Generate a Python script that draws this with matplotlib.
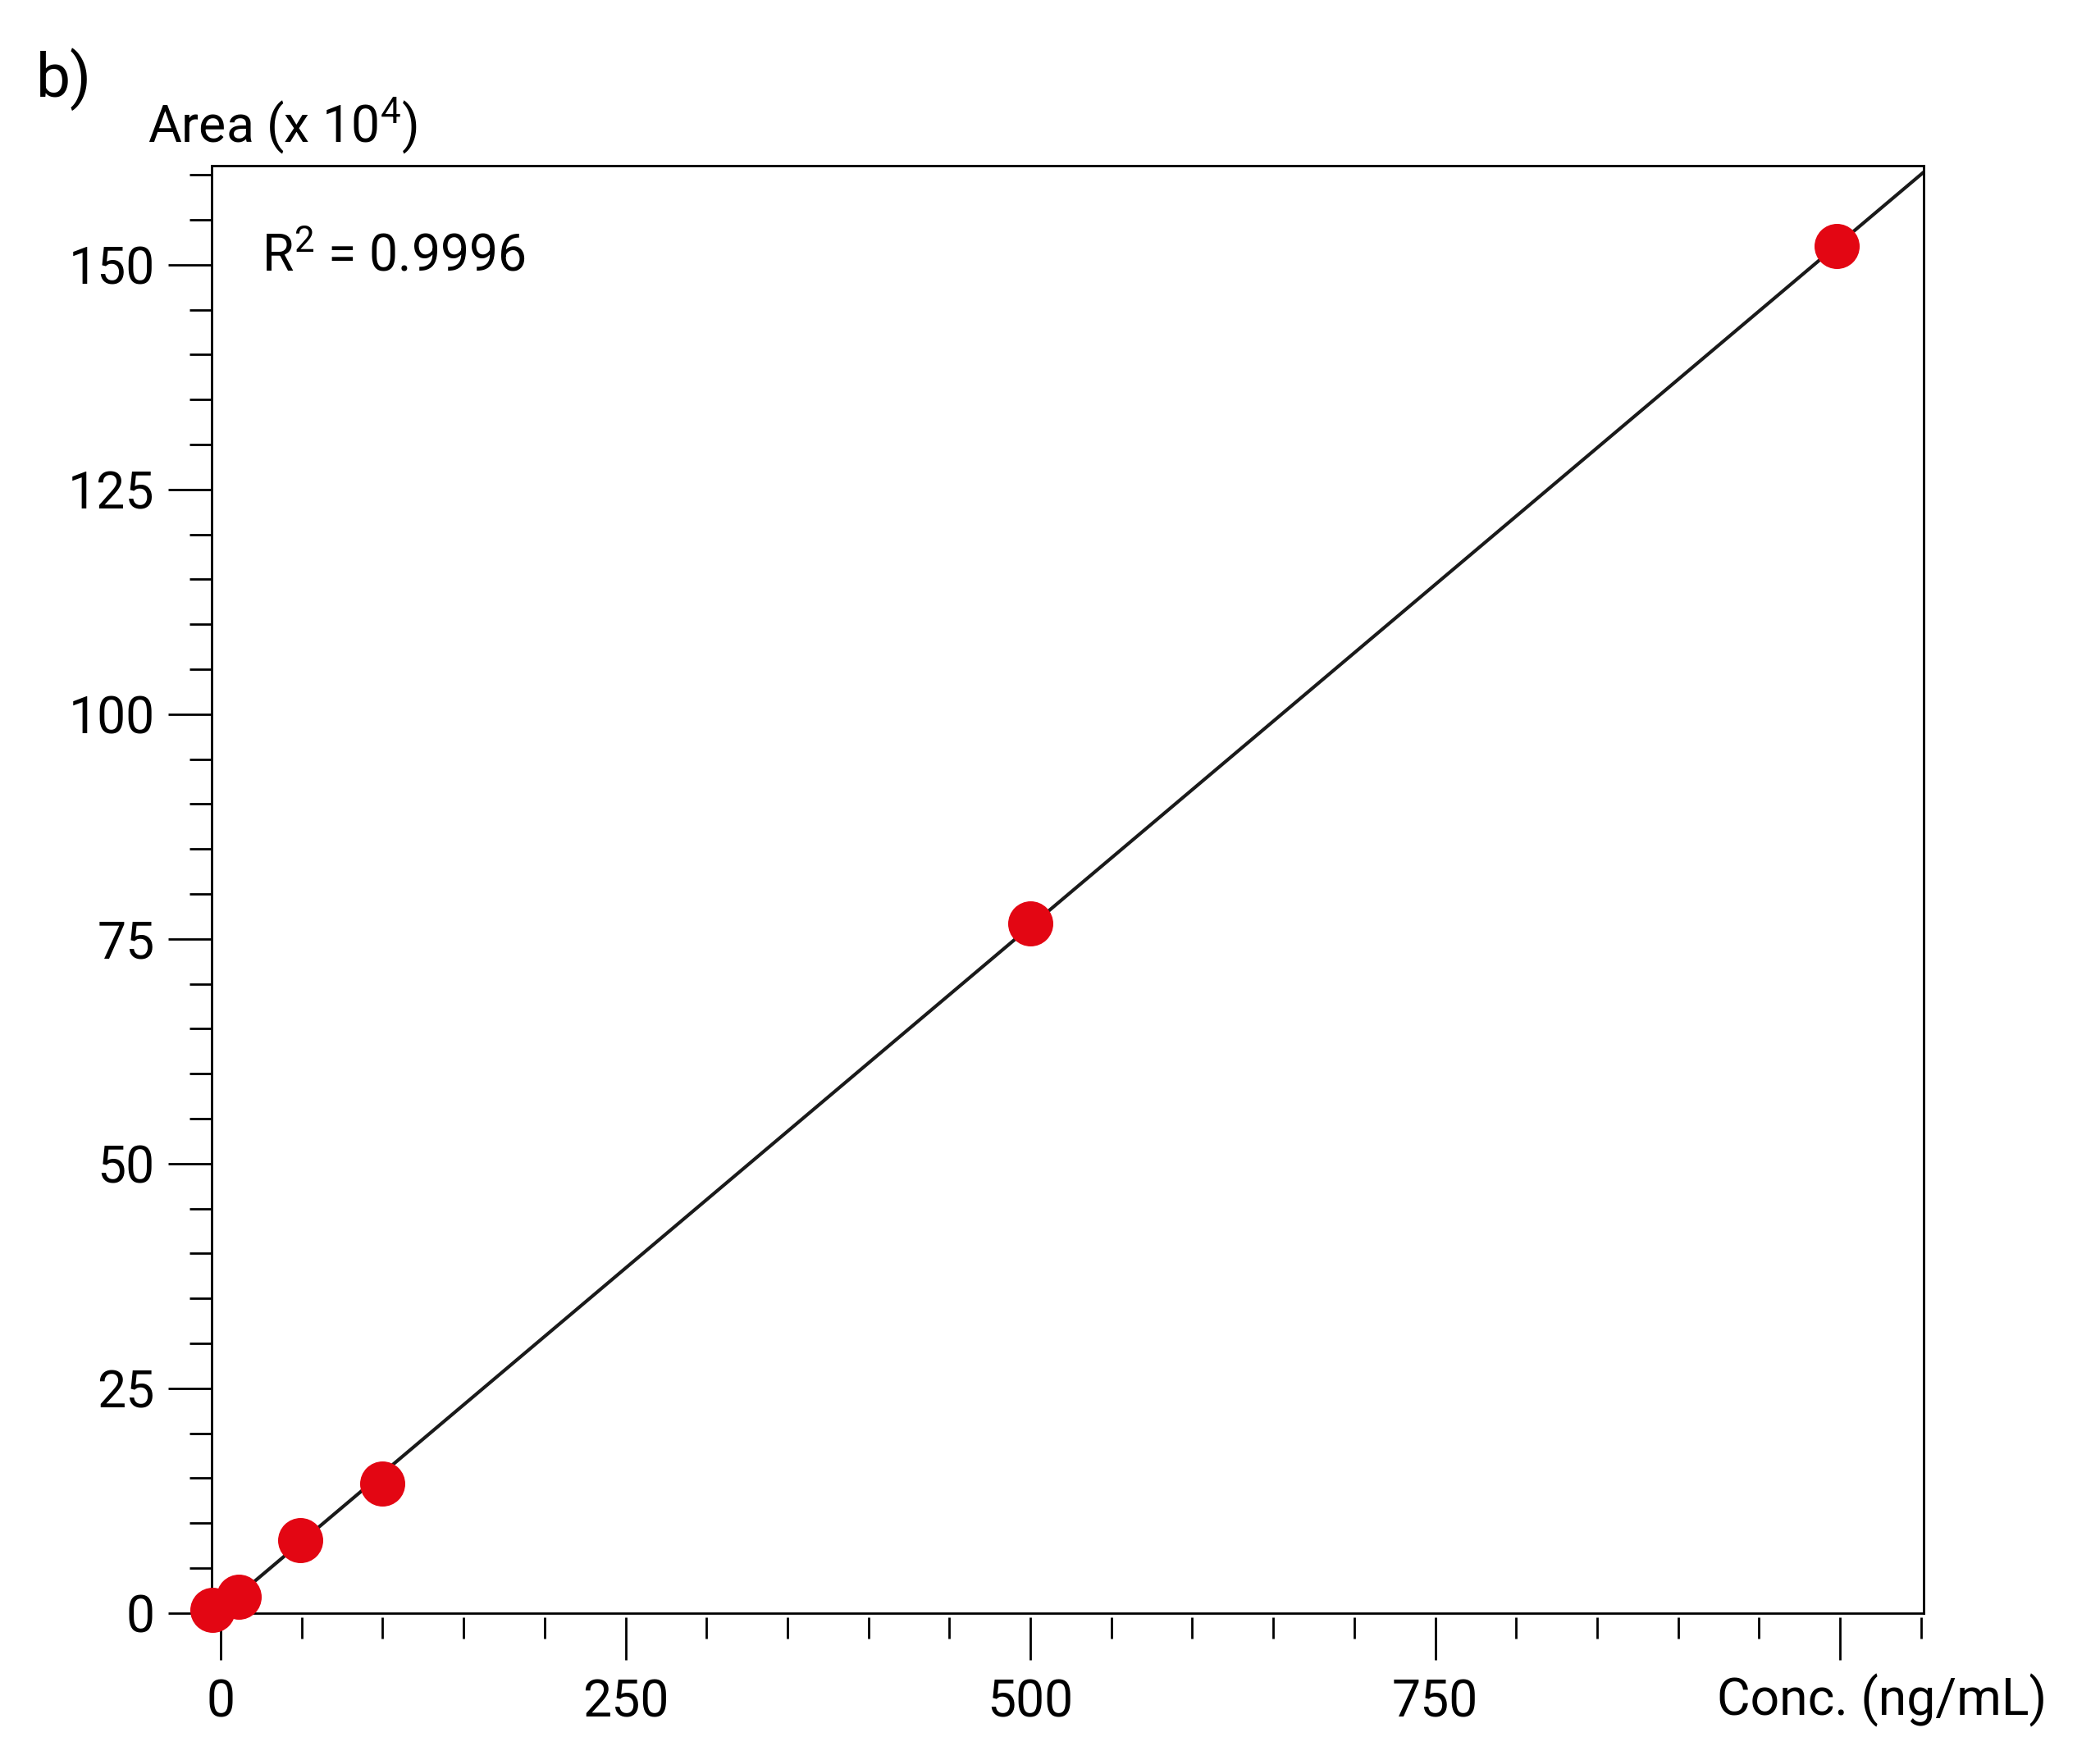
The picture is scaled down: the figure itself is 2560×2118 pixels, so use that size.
import matplotlib
matplotlib.use("Agg")
import matplotlib.pyplot as plt
from matplotlib.ticker import MultipleLocator
import numpy as np

# calibration points
conc = [-5, 11, 49, 100, 500, 998]
area = [0.36, 1.8, 8.1, 14.4, 76.7, 152.1]
x_major = [0, 250, 500, 750, 1000]
x_labels = ["0", "250", "500", "750", ""]
y_major = [0, 25, 50, 75, 100, 125, 150]
r2_text = r"R$^{2}$ = 0.9996"

plt.rcParams['font.family'] = ['Roboto', 'DejaVu Sans']
plt.rcParams['mathtext.default'] = 'regular'

fig = plt.figure(figsize=(12.8, 10.59), dpi=200)
ax = fig.add_axes([0.1009, 0.0714, 0.8152, 0.8331])

ax.set_xlim(-5.4, 1051.7)
ax.set_ylim(0, 161)

# fitted calibration line
slope, icpt = np.polyfit(conc, area, 1)
fx = np.array([0, ax.get_xlim()[1]])
ax.plot(fx, slope * fx + icpt, color='#1a1a1a', lw=1.5, zorder=2)

ax.plot(conc, area, 'o', ms=19.8, color='#E30613', mec='none',
        zorder=3, clip_on=False)

# axes box
for s in ax.spines.values():
    s.set_linewidth(1.0)
ax.spines['bottom'].set_visible(False)
ax.axhline(0, color='black', lw=1.0, clip_on=False, zorder=1)
ax.spines['bottom'].set_position(('outward', 1.8))

ax.set_xticks(x_major)
ax.set_xticklabels(x_labels)
ax.xaxis.set_minor_locator(MultipleLocator(50))
ax.set_yticks(y_major)
ax.yaxis.set_minor_locator(MultipleLocator(5))

fs = 22.5
ax.tick_params(axis='x', which='major', length=18.8, width=1.0, pad=8, labelsize=fs)
ax.tick_params(axis='x', which='minor', length=9.2, width=1.0)
ax.tick_params(axis='y', which='major', length=19.1, width=1.0, pad=6, labelsize=fs)
ax.tick_params(axis='y', which='minor', length=9.7, width=1.0)

# x axis title sits in place of the 1000 label
ax.annotate("Conc. (ng/mL)", xy=(1000, 0), xycoords=('data', 'axes fraction'),
            xytext=(18.4, -26.5), textcoords='offset points',
            ha='center', va='top', fontsize=fs, annotation_clip=False)

ax.text(0.0292, 0.9369, r2_text, transform=ax.transAxes, fontsize=fs,
        ha='left', va='center')

fig.text(180 / 2560, 1 - 173 / 2118, r"Area (x 10$^{4}$)", fontsize=fs,
         ha='left', va='baseline')
fig.text(44 / 2560, 1 - 118 / 2118, "b)", fontsize=27, ha='left', va='baseline')

fig.savefig("out.png", dpi=200, facecolor='white')
